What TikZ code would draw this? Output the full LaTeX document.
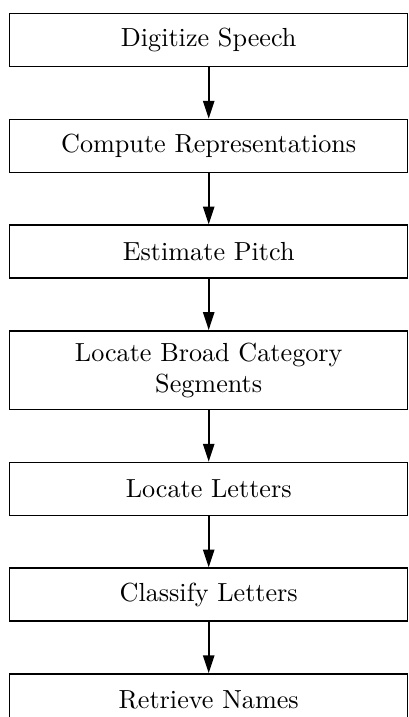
\documentclass[tikz,border=0pt]{standalone}
\usepackage{fontspec}
\usepackage{tikz}
\usetikzlibrary{arrows.meta,positioning}

\begin{document}
\begin{tikzpicture}[
  node distance=6.9mm,
  every node/.style={font=\normalsize, align=center},
  flow/.style={-{Triangle[length=2.4mm, width=1.5mm]}, line width=0.75pt},
  stage/.style={draw, line width=0.55pt, minimum width=53.45mm, minimum height=7.1mm, inner sep=2pt},
  tall/.style={stage, minimum height=10.6mm}
]
\clip (0,0) rectangle (54.8mm,-96.3mm);
\node[stage, anchor=north west] (digitize) at (1.21mm,-1.75mm) {Digitize Speech};
\node[stage, below=of digitize] (represent) {Compute Representations};
\node[stage, below=of represent] (pitch) {Estimate Pitch};
\node[tall, below=of pitch] (broad) {Locate Broad Category\\Segments};
\node[stage, below=of broad] (locate) {Locate Letters};
\node[stage, below=of locate] (classify) {Classify Letters};
\node[stage, below=of classify] (retrieve) {Retrieve Names};

\draw[flow] (digitize) -- (represent);
\draw[flow] (represent) -- (pitch);
\draw[flow] (pitch) -- (broad);
\draw[flow] (broad) -- (locate);
\draw[flow] (locate) -- (classify);
\draw[flow] (classify) -- (retrieve);
\end{tikzpicture}
\end{document}
